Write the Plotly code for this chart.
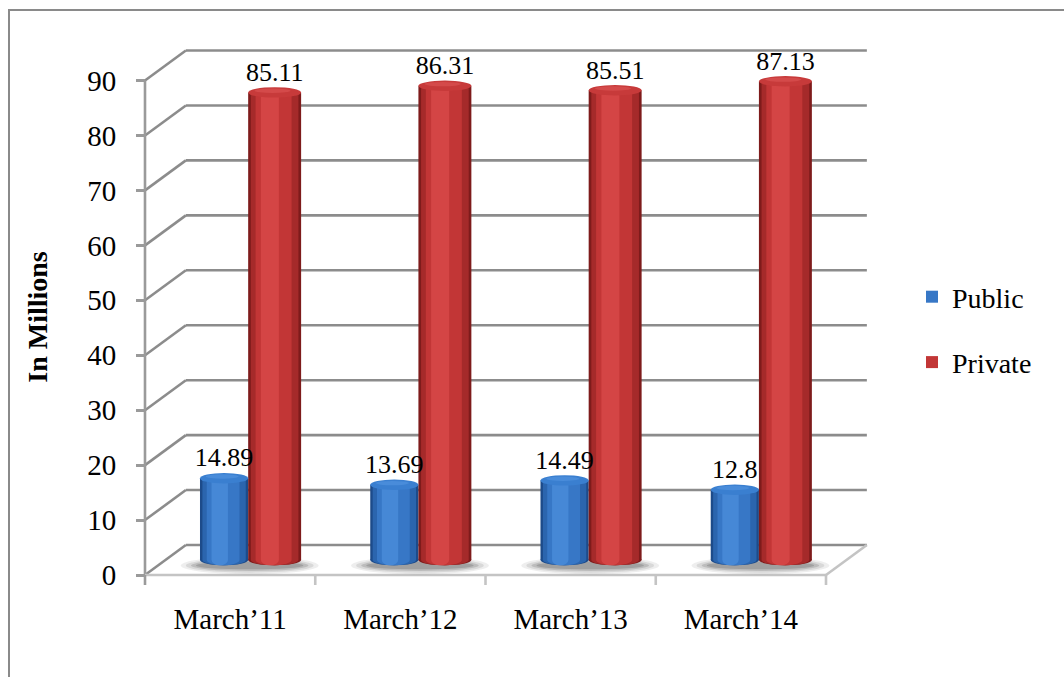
import plotly.graph_objects as go

# ---------------- data ----------------
categories = ["March\u201911", "March\u201912", "March\u201913", "March\u201914"]
public = [14.89, 13.69, 14.49, 12.8]
private = [85.11, 86.31, 85.51, 87.13]
y_ticks = [0, 10, 20, 30, 40, 50, 60, 70, 80, 90]
series_names = ["Public", "Private"]

# ---------------- geometry (pixel design of the 3-D box) ----------------
W, H = 1064, 677
L, R, T, B = 128, 878, 38, 596          # plot area in px
FRONT_LEFT_PX = 145.0                   # front y-axis
CAT_PX = 170.25                         # category width (px)
PX_PER_UNIT = 5.494                     # value scale (px per unit)
MID_ZERO_PX = 560.0                     # value 0 at mid depth


def x_of_px(px):
    return (px - FRONT_LEFT_PX) / CAT_PX - 0.5


def v_of_px(py):
    return (MID_ZERO_PX - py) / PX_PER_UNIT


X_RANGE = [x_of_px(L), x_of_px(R)]
Y_RANGE = [v_of_px(B), v_of_px(T)]
DX = 0.24                               # front->back shift, x units
DY = 30 / PX_PER_UNIT                   # front->back shift, value units
HALF_DY = DY / 2
n = len(categories)
X_LEFT, X_RIGHT = -0.5, n - 0.5

GRID = "#8c8c8c"
FLOOR = "#c4c4c4"
FONT = "Liberation Serif, 'Times New Roman', serif"

shapes = []
# back-wall gridlines and left-wall diagonals
for t in y_ticks:
    shapes.append(dict(type="line", xref="x", yref="y", layer="below",
                       x0=X_LEFT + DX, x1=X_RIGHT + DX, y0=t + HALF_DY, y1=t + HALF_DY,
                       line=dict(color=GRID, width=2.6)))
    shapes.append(dict(type="line", xref="x", yref="y", layer="below",
                       x0=X_LEFT, x1=X_LEFT + DX, y0=t - HALF_DY, y1=t + HALF_DY,
                       line=dict(color=GRID, width=2.6)))
# front y-axis line
shapes.append(dict(type="line", xref="x", yref="y", layer="below",
                   x0=X_LEFT, x1=X_LEFT, y0=-HALF_DY, y1=y_ticks[-1] - HALF_DY,
                   line=dict(color="#9a9a9a", width=2.6)))
# floor: front edge + right diagonal
shapes.append(dict(type="line", xref="x", yref="y", layer="below",
                   x0=X_LEFT, x1=X_RIGHT, y0=-HALF_DY, y1=-HALF_DY,
                   line=dict(color=FLOOR, width=2.6)))
shapes.append(dict(type="line", xref="x", yref="y", layer="below",
                   x0=X_RIGHT, x1=X_RIGHT + DX, y0=-HALF_DY, y1=HALF_DY,
                   line=dict(color=FLOOR, width=2.6)))
# x tick marks on the front floor edge
for k in range(n + 1):
    xb = X_LEFT + k
    shapes.append(dict(type="line", xref="x", yref="y", layer="below",
                       x0=xb, x1=xb, y0=-HALF_DY, y1=-HALF_DY - 10 / PX_PER_UNIT,
                       line=dict(color=FLOOR if k > 0 else "#9a9a9a", width=2.6)))

centers = [i + DX / 2 for i in range(n)]
pub_off, pub_w = -0.297, 0.283
pri_off, pri_w = -0.014, 0.311
ELL = 5.2 / PX_PER_UNIT   # half height of cylinder end ellipses

# soft shadows under each pair of cylinders
for c in centers:
    for (sl, sr, sy, a) in [(0.40, 0.40, 1.6, 0.09), (0.37, 0.37, 1.3, 0.13),
                            (0.34, 0.34, 1.0, 0.19), (0.31, 0.31, 0.7, 0.24)]:
        shapes.append(dict(type="circle", xref="x", yref="y", layer="below",
                           x0=c - sl - 0.01, x1=c + sr, y0=-1.0 - sy, y1=-1.0 + sy,
                           fillcolor="rgba(70,70,70,%.2f)" % a, line=dict(width=0)))

# cylinder shading layers: (start fraction, width fraction)
bands = [(0.0, 1.0), (0.05, 0.9), (0.14, 0.68), (0.24, 0.34)]
pal = {
    "Public": ["#1d4b8a", "#2b65ae", "#3777c6", "#4688d6"],
    "Private": ["#7e1b1b", "#a52a2a", "#c23636", "#d44545"],
}
tops = {
    "Public": ["#3a7fd0", "#5698e2"],
    "Private": ["#c73a3a", "#df5757"],
}
geom = {"Public": (pub_off, pub_w, public), "Private": (pri_off, pri_w, private)}

fig = go.Figure()
for name in series_names:
    off, w, vals = geom[name]
    for b, (fs, fw) in enumerate(bands):
        fig.add_trace(go.Bar(
            x=centers, y=vals, name=name,
            offset=off + fs * w, width=fw * w,
            marker=dict(color=pal[name][b], line=dict(width=0)),
            showlegend=(b == 2), legendgroup=name,
            hoverinfo="skip" if b != 0 else None,
        ))
        # bottom ellipse of this band (lower half shows under the bar)
        for c in centers:
            shapes.append(dict(type="circle", xref="x", yref="y", layer="below",
                               x0=c + off + fs * w, x1=c + off + (fs + fw) * w,
                               y0=-ELL, y1=ELL,
                               fillcolor=pal[name][b], line=dict(width=0)))
    # top ellipses
    for c, v in zip(centers, vals):
        shapes.append(dict(type="circle", xref="x", yref="y", layer="above",
                           x0=c + off, x1=c + off + w, y0=v - ELL, y1=v + ELL,
                           fillcolor=tops[name][0], line=dict(width=0)))
        shapes.append(dict(type="circle", xref="x", yref="y", layer="above",
                           x0=c + off + 0.12 * w, x1=c + off + 0.8 * w,
                           y0=v - 0.1 * ELL, y1=v + 0.75 * ELL,
                           fillcolor=tops[name][1], line=dict(width=0), opacity=0.55))
    # value labels
    fig.add_trace(go.Scatter(
        x=[c + off + w / 2 for c in centers], y=[v + ELL for v in vals],
        mode="text", text=[f"{v:g}" for v in vals], textposition="top center",
        textfont=dict(family=FONT, size=26, color="black"),
        showlegend=False, hoverinfo="skip", cliponaxis=False,
    ))

# outer chart border
def paper_x(px):
    return (px - L) / (R - L)


def paper_y(py):
    return (B - py) / (B - T)


shapes.append(dict(type="rect", xref="paper", yref="paper",
                   x0=paper_x(9), x1=paper_x(W + 10), y0=paper_y(H + 10), y1=paper_y(10),
                   line=dict(color="#8a8a8a", width=2), fillcolor="rgba(0,0,0,0)"))

fig.update_layout(
    width=W, height=H,
    margin=dict(l=L, r=W - R, t=T, b=H - B, pad=0),
    paper_bgcolor="white", plot_bgcolor="rgba(0,0,0,0)",
    barmode="overlay",
    shapes=shapes,
    font=dict(family=FONT, size=28, color="black"),
    xaxis=dict(range=X_RANGE, tickmode="array", tickvals=list(range(n)), ticktext=categories,
               showgrid=False, zeroline=False, showline=False, ticks="",
               ticklabelstandoff=3, tickfont=dict(family=FONT, size=29, color="black")),
    yaxis=dict(range=Y_RANGE, showgrid=False, zeroline=False, showticklabels=False,
               showline=False, ticks=""),
    yaxis2=dict(range=[Y_RANGE[0] + HALF_DY, Y_RANGE[1] + HALF_DY], overlaying="y",
                anchor="free", position=paper_x(FRONT_LEFT_PX), side="left",
                tickmode="array", tickvals=y_ticks, ticks="outside", ticklen=9,
                tickwidth=2.6, tickcolor="#9a9a9a", showgrid=False, zeroline=False,
                showline=False, ticklabelstandoff=14,
                tickfont=dict(family=FONT, size=29, color="black"),
                title=dict(text="<b>In Millions</b>", standoff=30,
                           font=dict(family=FONT, size=28, color="black"))),
    legend=dict(x=paper_x(912), y=paper_y(272), xanchor="left", yanchor="top",
                font=dict(family=FONT, size=28, color="black"), tracegroupgap=26,
                bgcolor="rgba(0,0,0,0)"),
    showlegend=True,
)
# dummy trace to anchor the secondary y axis (labels only)
fig.add_trace(go.Scatter(x=[None], y=[None], yaxis="y2", showlegend=False, hoverinfo="skip"))

fig.write_html("out.html")
